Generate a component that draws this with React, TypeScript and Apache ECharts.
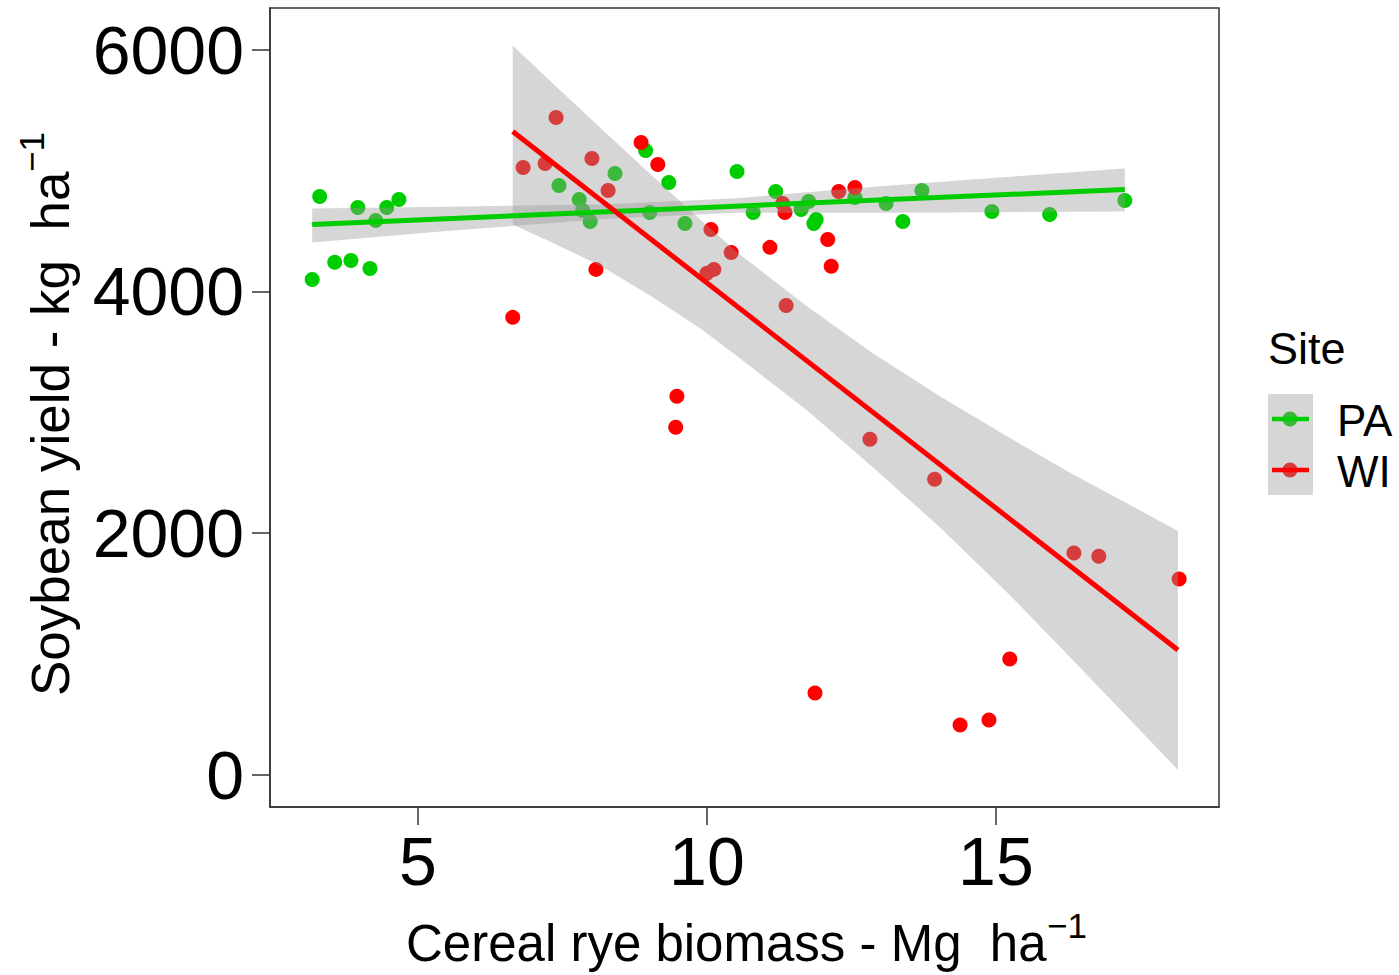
import React, { useEffect, useRef } from "react";
import * as echarts from "echarts";

// ---- data ----
const xTicks = [5, 10, 15];
const yTicks = [0, 2000, 4000, 6000];
const siteNames = ["PA", "WI"];
const siteColors = ["#00CD00", "#FF0000"];

// PA observations (biomass Mg/ha, yield kg/ha)
const paX = [3.17, 3.3, 3.56, 3.84, 3.96, 4.17, 4.27, 4.46, 4.67, 7.44, 7.79, 7.85, 7.98, 8.41, 8.94, 9.01, 9.34, 9.62, 10.52, 10.8, 11.19, 11.63, 11.76, 11.85, 11.89, 12.56, 13.1, 13.39, 13.72, 14.93, 15.93, 17.23];
const paY = [4099, 4785, 4240, 4256, 4694, 4190, 4587, 4694, 4760, 4876, 4760, 4669, 4579, 4975, 5165, 4653, 4901, 4562, 4992, 4653, 4826, 4678, 4744, 4562, 4595, 4777, 4727, 4579, 4835, 4661, 4636, 4752];

// WI observations
const wiX = [6.64, 6.82, 7.2, 7.39, 8.01, 8.08, 8.29, 8.86, 9.15, 9.48, 9.46, 10.0, 10.07, 10.12, 10.42, 11.09, 11.31, 11.35, 11.37, 11.87, 12.09, 12.15, 12.28, 12.56, 12.82, 13.94, 14.38, 14.88, 15.24, 16.35, 16.78, 18.17];
const wiY = [3785, 5025, 5058, 5438, 5099, 4182, 4835, 5231, 5050, 3132, 2876, 4149, 4512, 4182, 4322, 4364, 4727, 4653, 3884, 678, 4430, 4207, 4826, 4860, 2777, 2446, 413, 455, 959, 1835, 1810, 1620];

// fitted lines (end points)
const paFitX = [3.17, 17.23];
const paFitY = [4554, 4843];
const wiFitX = [6.64, 18.15];
const wiFitY = [5322, 1034];

// confidence bands
const paBandX = [3.17, 5.5, 8.3, 10.5, 13.0, 15.0, 17.23];
const paBandUpper = [4686, 4700, 4720, 4770, 4870, 4940, 5017];
const paBandLower = [4405, 4500, 4600, 4650, 4650, 4655, 4660];

const wiBandX = [6.64, 7.28, 8.15, 9.01, 9.88, 10.57, 11.73, 12.87, 14.03, 15.19, 16.33, 17.49, 18.15];
const wiBandUpper = [6033, 5744, 5355, 4975, 4595, 4306, 3876, 3488, 3132, 2802, 2488, 2190, 2017];
const wiBandLower = [4554, 4413, 4215, 3967, 3694, 3446, 3017, 2545, 2050, 1512, 950, 372, 41];

const FONT = "Liberation Sans, Arial, Helvetica, sans-serif";
const AXIS_COLOR = "#333333";
const BAND_FILL = "rgba(153,153,153,0.4)";

function zip(xs: number[], ys: number[]) {
  return xs.map((x, i) => [x, ys[i]]);
}

function bandSeries(xs: number[], up: number[], lo: number[]) {
  return {
    type: "custom",
    coordinateSystem: "cartesian2d",
    silent: true,
    z: 3,
    data: [[xs[0], up[0]]],
    renderItem: (_params: any, api: any) => {
      const pts: number[][] = [];
      for (let i = 0; i < xs.length; i++) pts.push(api.coord([xs[i], up[i]]));
      for (let i = xs.length - 1; i >= 0; i--) pts.push(api.coord([xs[i], lo[i]]));
      return { type: "polygon", shape: { points: pts }, style: { fill: BAND_FILL } };
    },
  };
}

function txt(text: string, x: number, y: number, fontSize: number, rotation = 0) {
  const style: any = {
    text,
    fontSize,
    fontFamily: FONT,
    fill: "#000",
    align: "left",
    verticalAlign: "middle",
    textAlign: "left",
    textVerticalAlign: "middle",
  };
  return { type: "text", x, y, rotation, silent: true, style };
}

export default function App() {
  const ref = useRef<HTMLDivElement>(null);

  useEffect(() => {
    const chart = echarts.init(ref.current!, null, { renderer: "svg" });
    const keyY = [419, 470];
    const option: any = {
      animation: false,
      backgroundColor: "#ffffff",
      grid: {
        left: 270,
        top: 8,
        width: 949,
        height: 799,
        show: true,
        borderColor: AXIS_COLOR,
        borderWidth: 1.5,
        backgroundColor: "transparent",
      },
      xAxis: {
        type: "value",
        min: 2.44,
        max: 18.86,
        splitLine: { show: false },
        axisLine: { show: true, onZero: false, lineStyle: { color: AXIS_COLOR, width: 1.5 } },
        axisTick: { show: true, inside: false, length: 18, customValues: xTicks, lineStyle: { color: AXIS_COLOR, width: 1.5 } },
        axisLabel: {
          customValues: xTicks,
          formatter: (v: number) => String(v),
          fontSize: 68,
          fontFamily: FONT,
          color: "#000",
          margin: 20,
        },
      },
      yAxis: {
        type: "value",
        min: -265,
        max: 6344,
        splitLine: { show: false },
        axisLine: { show: true, onZero: false, lineStyle: { color: AXIS_COLOR, width: 1.5 } },
        axisTick: { show: true, inside: false, length: 18, customValues: yTicks, lineStyle: { color: AXIS_COLOR, width: 1.5 } },
        axisLabel: {
          customValues: yTicks,
          formatter: (v: number) => String(v),
          fontSize: 68,
          fontFamily: FONT,
          color: "#000",
          margin: 26,
        },
      },
      series: [
        {
          type: "scatter",
          name: siteNames[0],
          data: zip(paX, paY),
          symbolSize: 15,
          itemStyle: { color: siteColors[0], opacity: 1 },
          z: 2,
          silent: true,
        },
        {
          type: "scatter",
          name: siteNames[1],
          data: zip(wiX, wiY),
          symbolSize: 15,
          itemStyle: { color: siteColors[1], opacity: 1 },
          z: 2,
          silent: true,
        },
        bandSeries(paBandX, paBandUpper, paBandLower),
        bandSeries(wiBandX, wiBandUpper, wiBandLower),
        {
          type: "line",
          data: zip(paFitX, paFitY),
          symbol: "none",
          lineStyle: { color: siteColors[0], width: 5 },
          z: 4,
          silent: true,
        },
        {
          type: "line",
          data: zip(wiFitX, wiFitY),
          symbol: "none",
          lineStyle: { color: siteColors[1], width: 5 },
          z: 4,
          silent: true,
        },
      ],
      graphic: [
        // axis titles
        txt("Cereal rye biomass - Mg  ha", 406, 943, 51),
        txt("\u22121", 1047, 925, 35),
        txt("Soybean yield - kg  ha", 50, 696, 53, Math.PI / 2),
        txt("\u22121", 31, 172, 35, Math.PI / 2),
        // legend
        txt("Site", 1268, 348, 45),
        { type: "circle", shape: { cx: 1290, cy: keyY[0], r: 7.5 }, style: { fill: siteColors[0] }, silent: true },
        { type: "circle", shape: { cx: 1290, cy: keyY[1], r: 7.5 }, style: { fill: siteColors[1] }, silent: true },
        { type: "rect", shape: { x: 1268, y: 394, width: 45, height: 101 }, style: { fill: BAND_FILL }, silent: true },
        { type: "line", shape: { x1: 1272, y1: keyY[0], x2: 1309, y2: keyY[0] }, style: { stroke: siteColors[0], lineWidth: 4.5 }, silent: true },
        { type: "line", shape: { x1: 1272, y1: keyY[1], x2: 1309, y2: keyY[1] }, style: { stroke: siteColors[1], lineWidth: 4.5 }, silent: true },
        txt(siteNames[0], 1337, keyY[0] + 1, 44),
        txt(siteNames[1], 1337, keyY[1] + 1, 44),
      ],
    };
    chart.setOption(option);
    return () => chart.dispose();
  }, []);

  return (
    <div
      ref={ref}
      style={{ position: "fixed", left: 0, top: 0, width: 1399, height: 975, background: "#fff" }}
    />
  );
}
